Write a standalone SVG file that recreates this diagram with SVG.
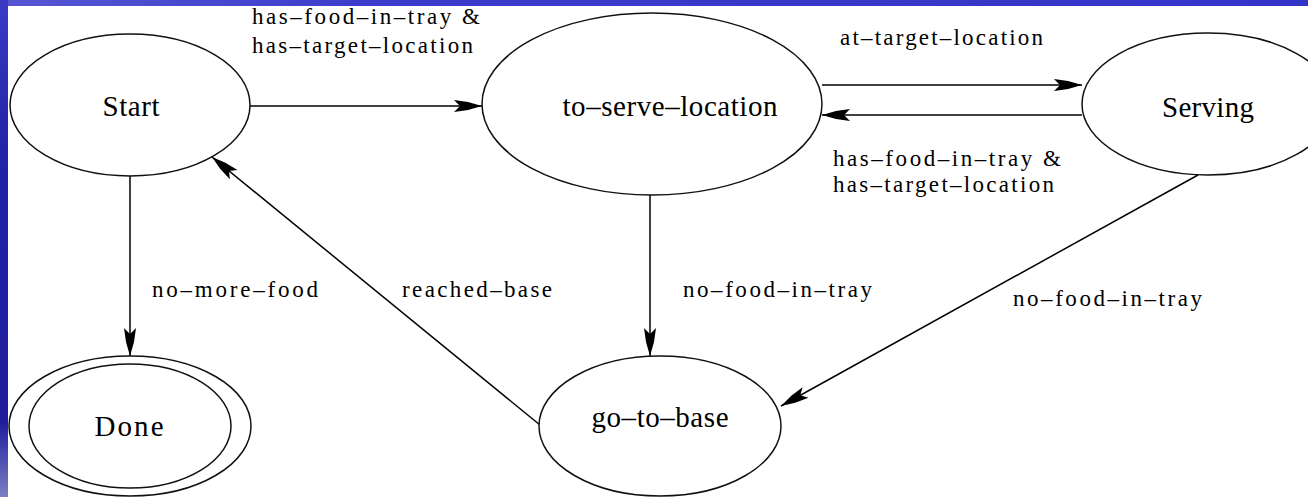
<svg xmlns="http://www.w3.org/2000/svg" width="1308" height="497" viewBox="0 0 1308 497">
  <defs>
    <linearGradient id="topBand" x1="0" y1="0" x2="1" y2="0">
      <stop offset="0" stop-color="#5656d4"/>
      <stop offset="0.3" stop-color="#3b3bcc"/>
      <stop offset="1" stop-color="#3434c8"/>
    </linearGradient>
    <linearGradient id="leftBand" x1="0" y1="0" x2="0" y2="1">
      <stop offset="0" stop-color="#3a3ac4"/>
      <stop offset="0.3" stop-color="#2222aa"/>
      <stop offset="0.85" stop-color="#1e1e9c"/>
      <stop offset="1" stop-color="#7c80c4"/>
    </linearGradient>
    <marker id="arrow" markerUnits="userSpaceOnUse" markerWidth="32" markerHeight="16" viewBox="-30 -8 32 16" refX="0" refY="0" orient="auto">
      <path d="M0,0 L-14,-4 L-28,-6 L-22,0 L-28,6 L-14,4 Z" fill="#000"/>
    </marker>
    <style>
      .state { fill: #fff; stroke: #111; stroke-width: 1.5; }
      .edge { stroke: #000; stroke-width: 1.5; fill: none; marker-end: url(#arrow); }
      .name { font-family: "Liberation Serif", "DejaVu Serif", serif; font-size: 29px; fill: #000; text-anchor: middle; }
      .cond { font-family: "Liberation Serif", "DejaVu Serif", serif; font-size: 23px; fill: #000; }
    </style>
  </defs>

  <!-- slide background -->
  <rect x="0" y="0" width="1308" height="497" fill="#fff"/>
  <rect x="0" y="0" width="1308" height="6" fill="url(#topBand)"/>
  <rect x="0" y="0" width="8" height="497" fill="url(#leftBand)"/>

  <!-- transitions -->
  <g id="connectors">
    <line class="edge" x1="250" y1="106" x2="482" y2="106"/>
    <line class="edge" x1="822" y1="85" x2="1082" y2="85"/>
    <line class="edge" x1="1082" y1="115" x2="822" y2="115"/>
    <line class="edge" x1="130" y1="175" x2="130" y2="356"/>
    <line class="edge" x1="540" y1="425" x2="212" y2="157"/>
    <line class="edge" x1="650" y1="195" x2="650" y2="356"/>
    <line class="edge" x1="1198" y1="175" x2="781" y2="406"/>

    <text class="cond" x="252" y="24" textLength="228" lengthAdjust="spacing">has–food–in–tray &amp;</text>
    <text class="cond" x="252" y="53" textLength="221" lengthAdjust="spacing">has–target–location</text>
    <text class="cond" x="840" y="45" textLength="203" lengthAdjust="spacing">at–target–location</text>
    <text class="cond" x="833" y="166" textLength="228" lengthAdjust="spacing">has–food–in–tray &amp;</text>
    <text class="cond" x="833" y="192" textLength="221" lengthAdjust="spacing">has–target–location</text>
    <text class="cond" x="152" y="297" textLength="166" lengthAdjust="spacing">no–more–food</text>
    <text class="cond" x="402" y="297" textLength="150" lengthAdjust="spacing">reached–base</text>
    <text class="cond" x="683" y="297" textLength="189" lengthAdjust="spacing">no–food–in–tray</text>
    <text class="cond" x="1013" y="306" textLength="189" lengthAdjust="spacing">no–food–in–tray</text>
  </g>

  <!-- states -->
  <g id="start">
    <ellipse class="state" cx="130" cy="105" rx="120" ry="71"/>
    <text class="name" x="131" y="116" textLength="57" lengthAdjust="spacing">Start</text>
  </g>
  <g id="to-serve-location">
    <ellipse class="state" cx="652" cy="104" rx="170" ry="91"/>
    <text class="name" x="670" y="116" textLength="215" lengthAdjust="spacing">to–serve–location</text>
  </g>
  <g id="serving">
    <ellipse class="state" cx="1208" cy="104" rx="126" ry="71"/>
    <text class="name" x="1208" y="117" textLength="92" lengthAdjust="spacing">Serving</text>
  </g>
  <g id="done">
    <ellipse class="state" cx="130" cy="426" rx="121" ry="70"/>
    <ellipse class="state" cx="130" cy="426" rx="101" ry="62"/>
    <text class="name" x="129" y="436" textLength="69" lengthAdjust="spacing">Done</text>
  </g>
  <g id="go-to-base">
    <ellipse class="state" cx="660" cy="426" rx="121" ry="70"/>
    <text class="name" x="660" y="427" textLength="137" lengthAdjust="spacing">go–to–base</text>
  </g>
</svg>
